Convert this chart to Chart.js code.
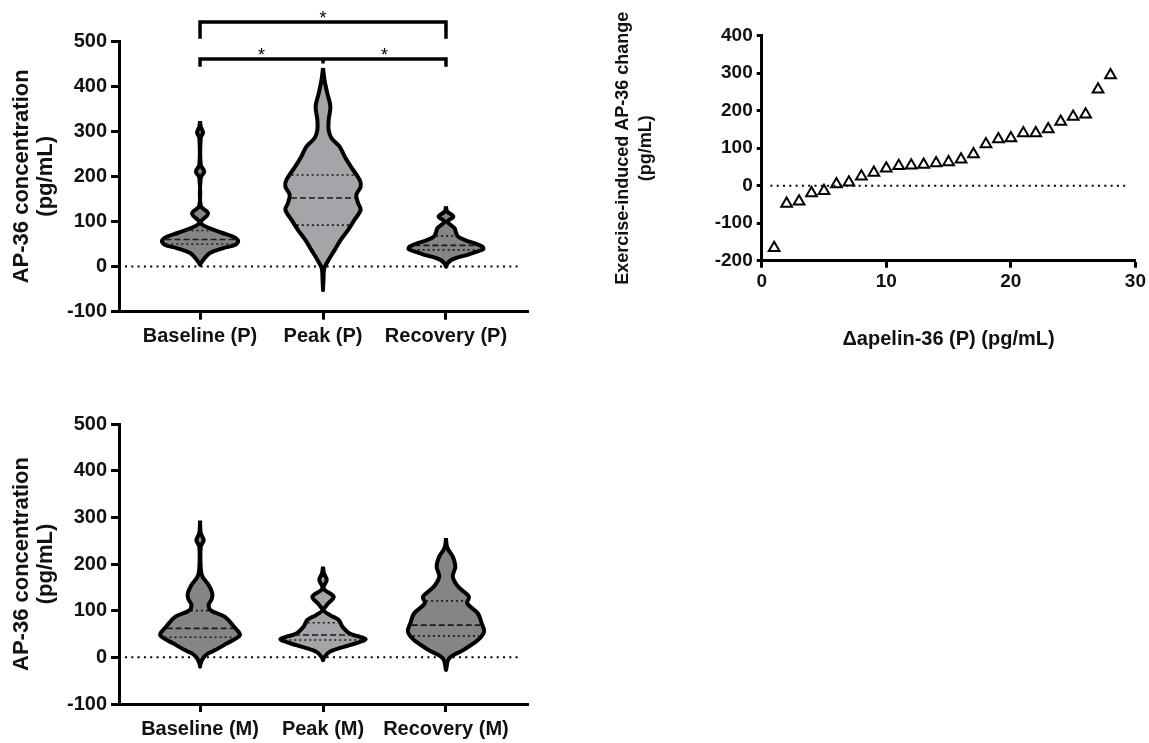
<!DOCTYPE html>
<html>
<head>
<meta charset="utf-8">
<script src="https://cdn.jsdelivr.net/npm/chart.js@4.4.0/dist/chart.umd.min.js"></script>
<style>
  html, body { margin: 0; padding: 0; background: #fff; overflow: hidden; }
  .panel { position: absolute; }
</style>
</head>
<body>
<canvas id="plasma" class="panel" width="560" height="370" style="left:0;top:0"></canvas>
<canvas id="change" class="panel" width="549" height="370" style="left:600px;top:0"></canvas>
<canvas id="muscle" class="panel" width="560" height="353" style="left:0;top:390px"></canvas>
<script>
const plasmaGroups = ['Baseline (P)', 'Peak (P)', 'Recovery (P)'];
const muscleGroups = ['Baseline (M)', 'Peak (M)', 'Recovery (M)'];

// violin outlines, top to bottom: concentration (pg/mL) and half width (category units)
const baselinePLevels = [322, 310, 297, 286, 225, 211, 197, 135, 118, 100, 95, 86, 75, 66, 57, 48, 41, 30, 15, 4];
const baselinePWidths = [0, 0.006, 0.024, 0.006, 0.006, 0.034, 0.006, 0.006, 0.065, 0.008, 0.008, 0.068, 0.176, 0.27, 0.31, 0.285, 0.19, 0.08, 0.027, 0];
const peakPLevels = [440, 414, 384, 355, 325, 303, 285, 266, 244, 222, 192, 177, 159, 141, 126, 104, 81, 59, 37, 15, -4, -29, -52];
const peakPWidths = [0, 0.012, 0.035, 0.06, 0.046, 0.046, 0.068, 0.135, 0.176, 0.225, 0.298, 0.306, 0.271, 0.285, 0.306, 0.257, 0.203, 0.144, 0.095, 0.046, 0.01, 0.004, 0];
const recoveryPLevels = [133, 122, 111, 100, 94, 85, 75, 66, 58, 52, 45, 39, 33, 26, 20, 14, 7, 0];
const recoveryPWidths = [0, 0.01, 0.06, 0.012, 0.03, 0.07, 0.082, 0.1, 0.16, 0.23, 0.29, 0.306, 0.25, 0.176, 0.09, 0.04, 0.012, 0];

const baselineMLevels = [293, 266, 251, 237, 190, 173, 155, 137, 125, 112, 100, 87, 66, 52, 45, 30, 15, 9, 0, -13, -20];
const baselineMWidths = [0, 0.006, 0.03, 0.006, 0.006, 0.02, 0.07, 0.1, 0.095, 0.07, 0.09, 0.2, 0.275, 0.32, 0.318, 0.22, 0.12, 0.07, 0.03, 0.005, 0];
const peakMLevels = [194, 180, 166, 152, 145, 130, 115, 101, 90, 80, 66, 51, 44, 39, 33, 26, 12, 0, -6];
const peakMWidths = [0, 0.008, 0.03, 0.006, 0.01, 0.087, 0.04, 0.006, 0.06, 0.128, 0.157, 0.216, 0.3, 0.347, 0.3, 0.216, 0.055, 0.01, 0];
const recoveryMLevels = [255, 240, 230, 216, 194, 173, 151, 130, 116, 94, 73, 55, 37, 16, -2, -27];
const recoveryMWidths = [0, 0.006, 0.02, 0.055, 0.076, 0.055, 0.1, 0.187, 0.172, 0.26, 0.29, 0.31, 0.26, 0.143, 0.026, 0];

// quartiles [Q1, median, Q3]
const plasmaQuartiles = [[50, 60, 80], [92, 152, 203], [37, 47, 68]];
const muscleQuartiles = [[43, 62, 100], [37, 48, 74], [46, 69, 121]];

// significance brackets (panel P)
const bracketLevels = [542, 460];
const bracketLegEnds = [505, 443];
const peakLegEnd = 450;
const starX = [1, 0.5, 1.5];
const starY = [558, 476, 476];

// exercise-induced change vs rank
const changeRank = [1, 2, 3, 4, 5, 6, 7, 8, 9, 10, 11, 12, 13, 14, 15, 16, 17, 18, 19, 20, 21, 22, 23, 24, 25, 26, 27, 28];
const changeValues = [-166, -48, -42, -20, -14, 4, 9, 25, 35, 46, 53, 54, 56, 60, 63, 70, 84, 111, 124, 127, 140, 140, 151, 171, 184, 190, 257, 295];

const darkFill = '#858585';
const lightFill = '#a4a4a9';
const fontFamily = '"Liberation Sans", Arial, sans-serif';

function violinOutline(center, levels, widths) {
  const pts = levels.map((v, i) => ({ x: center + widths[i], y: v }));
  for (let i = levels.length - 1; i >= 0; i--) pts.push({ x: center - widths[i], y: levels[i] });
  return pts;
}

function widthAt(levels, widths, v) {
  for (let i = 0; i < levels.length - 1; i++) {
    if (v <= levels[i] && v >= levels[i + 1]) {
      const t = (levels[i] - v) / (levels[i] - levels[i + 1]);
      return widths[i] + t * (widths[i + 1] - widths[i]);
    }
  }
  return 0;
}

function axisGrid(len) {
  return { display: true, drawOnChartArea: false, drawTicks: true, tickLength: len, tickWidth: 3, tickColor: '#000' };
}
const axisBorder = { display: true, color: '#000', width: 3 };

const starPlugin = {
  id: 'stars',
  afterDatasetsDraw(chart) {
    if (chart.canvas.id !== 'plasma') return;
    const { ctx, scales: { x, y } } = chart;
    ctx.save();
    ctx.font = '18px ' + fontFamily;
    ctx.fillStyle = '#000';
    ctx.textAlign = 'center';
    ctx.textBaseline = 'middle';
    starX.forEach((v, i) => ctx.fillText('*', x.getPixelForValue(v), y.getPixelForValue(starY[i]) + 4));
    ctx.restore();
  }
};

function violinChart(id, groups, outlines, quartiles, fills, areaTop, xAxisHeight, extraSets) {
  const datasets = [];
  outlines.forEach((o, i) => {
    quartiles[i].forEach((q, k) => {
      const w = Math.max(widthAt(o[0], o[1], q) - 0.016, 0);
      datasets.push({
        data: [{ x: i - w, y: q }, { x: i + w, y: q }],
        borderColor: '#1a1a1a', borderWidth: 1.6,
        borderDash: k === 1 ? [6, 3] : [2, 3],
        pointRadius: 0, showLine: true, fill: false
      });
    });
  });
  outlines.forEach((o, i) => {
    datasets.push({
      data: violinOutline(i, o[0], o[1]),
      borderColor: '#000', backgroundColor: fills[i], borderWidth: 4,
      tension: 0.35, fill: 'shape', pointRadius: 0, showLine: true,
      borderJoinStyle: 'round'
    });
  });
  extraSets.forEach(s => datasets.push(s));
  datasets.push({
    data: [{ x: -0.61, y: 0 }, { x: 2.6, y: 0 }],
    borderColor: '#000', borderWidth: 2, borderDash: [2, 4.3],
    pointRadius: 0, showLine: true, fill: false
  });

  return new Chart(document.getElementById(id), {
    type: 'scatter',
    data: { datasets },
    plugins: [starPlugin],
    options: {
      responsive: false,
      animation: false,
      layout: { padding: { top: areaTop, right: 32, left: 0, bottom: 0 } },
      plugins: { legend: { display: false }, tooltip: { enabled: false } },
      scales: {
        x: {
          type: 'linear', min: -0.659, max: 2.667,
          afterBuildTicks: s => { s.ticks = groups.map((g, i) => ({ value: i })); },
          ticks: {
            callback: v => groups[v], color: '#111', padding: 5,
            autoSkip: false, maxRotation: 0,
            font: { family: fontFamily, weight: 'bold', size: 20 }
          },
          grid: axisGrid(8),
          border: axisBorder,
          afterFit: s => { s.height = xAxisHeight; }
        },
        y: {
          min: -100, max: 500,
          ticks: {
            stepSize: 100, color: '#111', padding: 4,
            font: { family: fontFamily, weight: 'bold', size: 20 }
          },
          grid: axisGrid(8),
          border: axisBorder,
          title: {
            display: true, text: ['AP-36 concentration', '(pg/mL)'], color: '#111',
            font: { family: fontFamily, weight: 'bold', size: 22, lineHeight: 1.1 },
            padding: { top: 10, bottom: 0 }
          },
          afterFit: s => { s.width = 119; }
        }
      }
    }
  });
}

function bracket(points) {
  return {
    data: points, borderColor: '#000', borderWidth: 3.5, borderJoinStyle: 'miter',
    pointRadius: 0, showLine: true, fill: false, clip: false
  };
}

violinChart('plasma', plasmaGroups,
  [[baselinePLevels, baselinePWidths], [peakPLevels, peakPWidths], [recoveryPLevels, recoveryPWidths]],
  plasmaQuartiles, [darkFill, lightFill, darkFill], 41, 58.3,
  [
    bracket([{ x: 0, y: bracketLegEnds[0] }, { x: 0, y: bracketLevels[0] }, { x: 2, y: bracketLevels[0] }, { x: 2, y: bracketLegEnds[0] }]),
    bracket([{ x: 0, y: bracketLegEnds[1] }, { x: 0, y: bracketLevels[1] }, { x: 2, y: bracketLevels[1] }, { x: 2, y: bracketLegEnds[1] }]),
    bracket([{ x: 1, y: bracketLevels[1] }, { x: 1, y: peakLegEnd }])
  ]);

violinChart('muscle', muscleGroups,
  [[baselineMLevels, baselineMWidths], [peakMLevels, peakMWidths], [recoveryMLevels, recoveryMWidths]],
  muscleQuartiles, [darkFill, lightFill, darkFill], 34, 39, []);

new Chart(document.getElementById('change'), {
  type: 'scatter',
  data: {
    datasets: [
      {
        data: changeRank.map((r, i) => ({ x: r, y: changeValues[i] })),
        pointStyle: 'triangle', pointRadius: 6.2, borderWidth: 2,
        borderColor: '#000', backgroundColor: 'rgba(255,255,255,0)'
      },
      {
        data: [{ x: 0.7, y: 0 }, { x: 29.5, y: 0 }],
        borderColor: '#000', borderWidth: 2, borderDash: [2, 4.3],
        pointRadius: 0, showLine: true, fill: false
      }
    ]
  },
  options: {
    responsive: false,
    animation: false,
    layout: { padding: { top: 35.7, right: 13.3, left: 0, bottom: 0 } },
    plugins: { legend: { display: false }, tooltip: { enabled: false } },
    scales: {
      x: {
        min: 0, max: 30,
        ticks: { stepSize: 10, color: '#111', padding: 3, font: { family: fontFamily, weight: 'bold', size: 19 } },
        grid: axisGrid(7),
        border: axisBorder,
        title: {
          display: true, text: 'Δapelin-36 (P) (pg/mL)', color: '#111',
          font: { family: fontFamily, weight: 'bold', size: 20 },
          padding: { top: 0, bottom: 19 }
        },
        afterFit: s => { s.height = 109.3; }
      },
      y: {
        min: -200, max: 400,
        ticks: { stepSize: 100, color: '#111', padding: 4, font: { family: fontFamily, weight: 'bold', size: 19 } },
        grid: axisGrid(5),
        border: axisBorder,
        title: {
          display: true, text: ['Exercise-induced AP-36 change', '(pg/mL)'], color: '#111',
          font: { family: fontFamily, weight: 'bold', size: 18, lineHeight: 1.3 },
          padding: { top: 11, bottom: 0 }
        },
        afterFit: s => { s.width = 161.7; }
      }
    }
  }
});
</script>
</body>
</html>
